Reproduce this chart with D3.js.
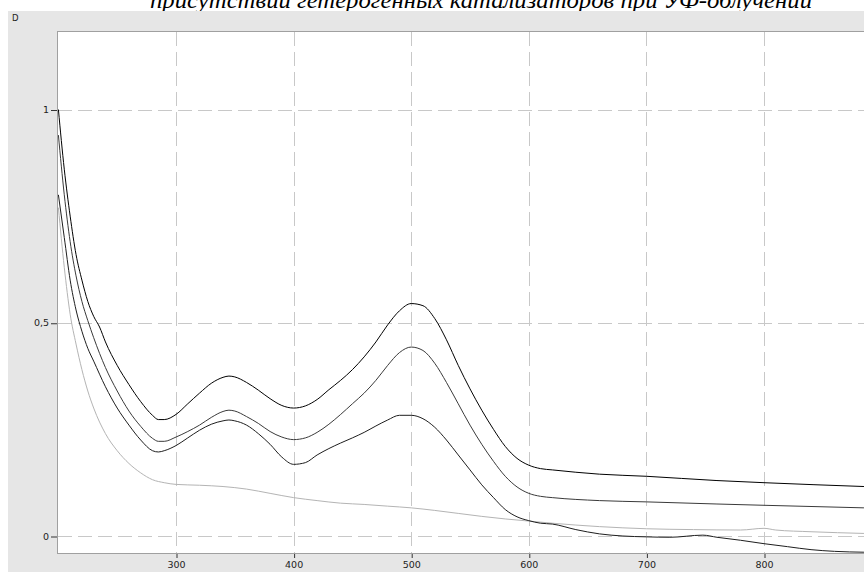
<!DOCTYPE html>
<html>
<head>
<meta charset="utf-8">
<script src="https://cdn.jsdelivr.net/npm/d3@7"></script>
<style>
html,body{margin:0;padding:0;background:#fff;overflow:hidden}
svg{display:block}
.tick text,.lbl{font-family:'DejaVu Sans',Verdana,sans-serif}
</style>
</head>
<body>
<svg id="chart" width="864" height="572"></svg>
<script>
const titleText = "присутствии гетерогенных катализаторов при УФ-облучении";
const yAxisLabel = "D";
const xTicks = [300, 400, 500, 600, 700, 800];
const yTicks = [0, 0.5, 1];
const yTickLabels = ["0", "0,5", "1"];

const wlA = [200,205,210,215,220,225,230,235,240,250,260,270,280,285,290,300,310,320,330,340,345,350,360,370,380,390,400,410,420,430,440,450,460,470,480,490,500,510,520,530,540,550,560,570,580,590,600,610,620,660,700,760,800,885];
const seriesA = [1.0,0.86,0.75,0.66,0.6,0.55,0.515,0.49,0.455,0.4,0.355,0.315,0.283,0.273,0.273,0.285,0.31,0.335,0.358,0.372,0.375,0.373,0.36,0.342,0.322,0.306,0.3,0.305,0.32,0.343,0.365,0.39,0.42,0.455,0.495,0.528,0.545,0.54,0.51,0.46,0.4,0.345,0.295,0.25,0.21,0.182,0.166,0.158,0.155,0.145,0.14,0.13,0.125,0.116];

const wlB = [200,205,210,215,220,225,230,240,250,260,270,280,285,290,300,310,320,330,340,345,350,360,370,380,390,400,410,420,430,440,450,460,470,480,490,500,510,520,530,540,550,560,570,580,590,600,610,620,660,700,760,800,885];
const seriesB = [0.94,0.8,0.69,0.61,0.55,0.505,0.465,0.395,0.34,0.293,0.257,0.229,0.222,0.222,0.232,0.245,0.26,0.278,0.292,0.295,0.293,0.28,0.264,0.245,0.232,0.226,0.23,0.243,0.262,0.285,0.31,0.335,0.365,0.4,0.43,0.443,0.435,0.405,0.36,0.31,0.26,0.215,0.175,0.14,0.115,0.1,0.093,0.09,0.083,0.08,0.075,0.072,0.066];

const wlC = [200,205,210,215,220,225,230,240,250,260,270,280,285,290,300,310,320,330,340,345,350,360,370,380,390,400,410,420,430,440,450,460,470,480,490,500,510,520,530,540,550,560,570,580,590,600,610,620,640,660,680,700,720,748,760,780,800,820,840,860,885];
const seriesC = [0.8,0.7,0.6,0.53,0.48,0.44,0.41,0.35,0.3,0.26,0.225,0.2,0.197,0.2,0.212,0.23,0.248,0.262,0.27,0.272,0.27,0.26,0.24,0.215,0.185,0.168,0.172,0.19,0.205,0.218,0.23,0.243,0.258,0.272,0.283,0.283,0.275,0.255,0.225,0.19,0.155,0.12,0.09,0.062,0.045,0.036,0.03,0.028,0.015,0.005,0.0,-0.002,-0.003,0.002,-0.003,-0.01,-0.018,-0.025,-0.032,-0.036,-0.038];

const wlD = [200,205,210,215,220,225,230,240,250,260,270,280,290,300,320,340,360,380,400,420,440,460,480,500,520,540,560,580,600,620,660,700,740,780,800,810,840,885];
const seriesD = [0.77,0.63,0.52,0.45,0.39,0.34,0.3,0.24,0.2,0.17,0.148,0.132,0.125,0.121,0.119,0.116,0.11,0.1,0.09,0.083,0.077,0.074,0.07,0.066,0.06,0.053,0.046,0.04,0.035,0.03,0.022,0.017,0.015,0.014,0.018,0.014,0.01,0.006];

const svg = d3.select("#chart");
const W = 864, H = 572;
const plot = {left: 58, top: 32, right: 881, bottom: 553};

const x = d3.scaleLinear().domain([200, 900]).range([58.4, 881.6]);
const y = d3.scaleLinear().domain([0, 1]).range([536, 109.5]);

// title (partly hidden behind the panel, as in the source)
svg.append("text")
  .attr("x", 481).attr("y", 8)
  .attr("text-anchor", "middle")
  .style("font-family", "'Liberation Serif', 'DejaVu Serif', serif")
  .style("font-style", "italic")
  .style("font-size", "24px")
  .attr("textLength", 662)
  .attr("lengthAdjust", "spacingAndGlyphs")
  .attr("fill", "#000")
  .text(titleText);

// gray panel
svg.append("rect").attr("x", 8).attr("y", 11).attr("width", W - 8).attr("height", H - 11).attr("fill", "#e6e6e6");

// plot area
svg.append("rect").attr("x", plot.left).attr("y", plot.top)
  .attr("width", plot.right - plot.left).attr("height", plot.bottom - plot.top)
  .attr("fill", "#fff");

const clip = svg.append("defs").append("clipPath").attr("id", "pclip");
clip.append("rect").attr("x", plot.left).attr("y", plot.top)
  .attr("width", plot.right - plot.left).attr("height", plot.bottom - plot.top);

// grid
const grid = svg.append("g").attr("clip-path", "url(#pclip)");
grid.selectAll(".gx").data(xTicks).join("line")
  .attr("x1", d => Math.round(x(d)) + 0.5).attr("x2", d => Math.round(x(d)) + 0.5)
  .attr("y1", plot.top).attr("y2", plot.bottom)
  .attr("stroke", "#c8c8c8").attr("stroke-dasharray", "14,6");
grid.selectAll(".gy").data(yTicks).join("line")
  .attr("y1", d => Math.round(y(d)) + 0.5).attr("y2", d => Math.round(y(d)) + 0.5)
  .attr("x1", plot.left).attr("x2", plot.right)
  .attr("stroke", "#c8c8c8").attr("stroke-dasharray", "14,6");

// curves
const line = d3.line().x(d => x(d[0])).y(d => y(d[1])).curve(d3.curveMonotoneX);
const curves = [
  {wl: wlD, v: seriesD, color: "#b4b4b4"},
  {wl: wlC, v: seriesC, color: "#1e1e1e"},
  {wl: wlB, v: seriesB, color: "#3a3a3a"},
  {wl: wlA, v: seriesA, color: "#000000"}
];
const cg = svg.append("g").attr("clip-path", "url(#pclip)");
curves.forEach(c => {
  cg.append("path")
    .datum(d3.zip(c.wl, c.v))
    .attr("d", line)
    .attr("fill", "none")
    .attr("stroke", c.color)
    .attr("stroke-width", 1);
});

// borders
svg.append("line").attr("x1", plot.left - 0.5).attr("x2", plot.left - 0.5).attr("y1", plot.top).attr("y2", plot.bottom + 1).attr("stroke", "#a0a0a0");
svg.append("line").attr("x1", plot.left - 1).attr("x2", W).attr("y1", plot.bottom + 0.5).attr("y2", plot.bottom + 0.5).attr("stroke", "#a0a0a0");
svg.append("line").attr("x1", plot.left - 1).attr("x2", W).attr("y1", plot.top - 0.5).attr("y2", plot.top - 0.5).attr("stroke", "#a0a0a0");

// axes
const xAxis = d3.axisBottom(x).tickValues(xTicks).tickSize(4).tickPadding(3).tickSizeOuter(0);
const gx = svg.append("g").attr("transform", `translate(0,${plot.bottom + 1})`).call(xAxis);
gx.select(".domain").remove();
gx.selectAll("line").attr("stroke", "#333").attr("transform", "translate(0.5,0)");
gx.selectAll("text").attr("font-size", 9.5).attr("fill", "#222");

const yAxis = d3.axisLeft(y).tickValues(yTicks).tickFormat((d, i) => yTickLabels[i]).tickSize(6).tickPadding(2).tickSizeOuter(0);
const gy = svg.append("g").attr("transform", `translate(${plot.left - 1},0)`).call(yAxis);
gy.select(".domain").remove();
gy.selectAll("line").attr("stroke", "#333").attr("transform", "translate(0,0.5)");
gy.selectAll("text").attr("font-size", 9.5).attr("fill", "#222");
gx.attr("font-family", null); gy.attr("font-family", null);

svg.append("text").attr("class", "lbl").attr("x", 12).attr("y", 21)
  .attr("font-size", 8.5)
  .attr("fill", "#222").text(yAxisLabel);
</script>
</body>
</html>
